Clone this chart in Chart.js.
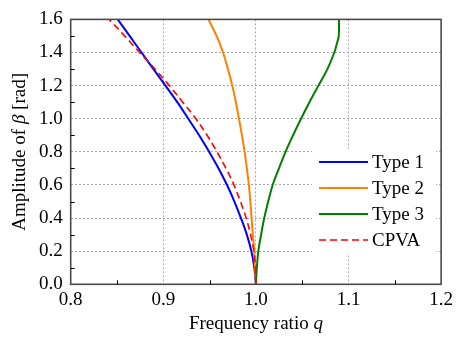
<!DOCTYPE html>
<html>
<head>
<meta charset="utf-8">
<script src="https://cdn.jsdelivr.net/npm/chart.js@4/dist/chart.umd.min.js"></script>
<style>
  html, body { margin: 0; padding: 0; background: #fff; }
  #wrap { width: 457px; height: 339px; }
</style>
</head>
<body>
<div id="wrap"><canvas id="chart" width="457" height="339"></canvas></div>
<script>
// amplitude values (beta, rad) and frequency ratios
const betaSteps = [0, 0.1, 0.2, 0.3, 0.4, 0.5, 0.6, 0.7, 0.8, 0.9, 1.0, 1.1, 1.2, 1.3, 1.4, 1.5, 1.6];

const qType1 = [1.0, 0.9983, 0.9951, 0.9902, 0.9838, 0.9768, 0.9688, 0.9597, 0.9495, 0.9387, 0.9270, 0.9151, 0.9023, 0.8894, 0.8765, 0.8636, 0.8508];
const qType2 = [1.0, 0.9990, 0.9981, 0.9967, 0.9953, 0.9940, 0.9924, 0.9902, 0.9878, 0.9849, 0.9817, 0.9784, 0.9745, 0.9698, 0.9645, 0.9575, 0.9487];
const qCpva = [1.0, 0.9994, 0.9978, 0.9942, 0.9895, 0.9833, 0.9763, 0.9677, 0.9580, 0.9473, 0.9352, 0.9210, 0.9065, 0.8910, 0.8744, 0.8583, 0.8414];

const betaType3 = [0, 0.1, 0.2, 0.3, 0.4, 0.5, 0.6, 0.7, 0.8, 0.9, 1.0, 1.1, 1.2, 1.3, 1.4, 1.45, 1.5, 1.6];
const qType3 = [1.0, 1.0010, 1.0026, 1.0056, 1.0090, 1.0133, 1.0181, 1.0249, 1.0320, 1.0401, 1.0487, 1.0578, 1.0675, 1.0772, 1.0847, 1.0872, 1.0895, 1.0897];

const seriesLabels = ['Type 1', 'Type 2', 'Type 3', 'CPVA'];
const xMinorTicks = [0.85, 0.95, 1.05, 1.15];
const yMinorTicks = [0.1, 0.3, 0.5, 0.7, 0.9, 1.1, 1.3, 1.5];

const FONT = "'Liberation Serif', 'Times New Roman', serif";

function toPoints(qs, betas) {
    return qs.map((q, i) => ({ x: q, y: betas[i] }));
}

function gridColor(ctx) {
    const v = ctx.tick ? ctx.tick.value : null;
    const s = ctx.scale;
    if (v === null || Math.abs(v - s.min) < 1e-6 || Math.abs(v - s.max) < 1e-6) return 'rgba(0,0,0,0)';
    return '#a8a8a8';
}

// frame, minor ticks, axis titles and legend
const decorPlugin = {
    id: 'decor',
    beforeDatasetsDraw(chart) {
        const c = chart.ctx;
        // white box behind the legend hides the grid there
        c.save();
        c.fillStyle = '#fff';
        c.fillRect(312, 149, 124, 104);
        c.restore();
    },
    afterDraw(chart) {
        const c = chart.ctx;
        const a = chart.chartArea;
        const xs = chart.scales.x;
        const ys = chart.scales.y;

        c.save();
        c.strokeStyle = '#4a4a4a';
        c.lineWidth = 1.6;
        c.strokeRect(a.left, a.top, a.right - a.left, a.bottom - a.top);

        c.strokeStyle = '#000';
        c.lineWidth = 1;
        xMinorTicks.forEach((v) => {
            const px = Math.round(xs.getPixelForValue(v)) + 0.5;
            c.beginPath();
            c.moveTo(px, a.bottom);
            c.lineTo(px, a.bottom - 4);
            c.stroke();
        });
        yMinorTicks.forEach((v) => {
            const py = Math.round(ys.getPixelForValue(v)) + 0.5;
            c.beginPath();
            c.moveTo(a.left, py);
            c.lineTo(a.left + 4, py);
            c.stroke();
        });

        // x title
        c.fillStyle = '#000';
        c.textBaseline = 'middle';
        const part1 = 'Frequency ratio ';
        c.font = '19px ' + FONT;
        const w1 = c.measureText(part1).width;
        c.font = 'italic 19px ' + FONT;
        const w2 = c.measureText('q').width;
        let x0 = (a.left + a.right) / 2 - (w1 + w2) / 2;
        c.font = '19px ' + FONT;
        c.textAlign = 'left';
        c.fillText(part1, x0, 324);
        c.font = 'italic 19px ' + FONT;
        c.fillText('q', x0 + w1, 324);

        // y title, rotated
        c.translate(20, (a.top + a.bottom) / 2);
        c.rotate(-Math.PI / 2);
        const yParts = [['Amplitude of ', ''], ['\u03B2', 'italic '], [' [rad]', '']];
        let total = 0;
        yParts.forEach((p) => {
            c.font = p[1] + '19px ' + FONT;
            total += c.measureText(p[0]).width;
        });
        let cx = -total / 2;
        yParts.forEach((p) => {
            c.font = p[1] + '19px ' + FONT;
            c.fillText(p[0], cx, 0);
            cx += c.measureText(p[0]).width;
        });
        c.restore();

        // legend
        c.save();
        chart.data.datasets.forEach((ds, i) => {
            const ly = 162 + i * 26;
            c.strokeStyle = ds.borderColor;
            c.lineWidth = ds.borderWidth;
            c.setLineDash(ds.borderDash || []);
            c.beginPath();
            c.moveTo(319, ly);
            c.lineTo(368, ly);
            c.stroke();
            c.setLineDash([]);
            c.fillStyle = '#000';
            c.font = '19px ' + FONT;
            c.textAlign = 'left';
            c.textBaseline = 'middle';
            c.fillText(ds.label, 372, ly + 1);
        });
        c.restore();
    }
};

const chart = new Chart(document.getElementById('chart'), {
    type: 'scatter',
    data: {
        datasets: [
            {
                label: seriesLabels[0],
                data: toPoints(qType1, betaSteps),
                borderColor: '#0000ff',
                borderWidth: 2,
                order: 4
            },
            {
                label: seriesLabels[1],
                data: toPoints(qType2, betaSteps),
                borderColor: '#ff8000',
                borderWidth: 2,
                order: 3
            },
            {
                label: seriesLabels[2],
                data: toPoints(qType3, betaType3),
                borderColor: '#008000',
                borderWidth: 2,
                order: 2
            },
            {
                label: seriesLabels[3],
                data: toPoints(qCpva, betaSteps),
                borderColor: '#ff0000',
                borderWidth: 1.6,
                borderDash: [7, 4],
                order: 1
            }
        ]
    },
    options: {
        responsive: false,
        animation: false,
        devicePixelRatio: 1,
        showLine: true,
        elements: {
            point: { radius: 0, hoverRadius: 0 },
            line: { tension: 0.35, fill: false }
        },
        layout: { padding: { top: 12, right: 14, left: 0, bottom: 0 } },
        plugins: {
            legend: { display: false },
            tooltip: { enabled: false }
        },
        scales: {
            x: {
                type: 'linear',
                min: 0.8,
                max: 1.2,
                ticks: {
                    stepSize: 0.1,
                    padding: 4,
                    color: '#000',
                    font: { family: FONT, size: 19 },
                    callback: (v) => v.toFixed(1)
                },
                grid: { color: gridColor, lineWidth: 1, drawTicks: false },
                border: { display: false, dash: [2, 2] },
                afterFit: (s) => { s.height = 54.7; }
            },
            y: {
                type: 'linear',
                min: 0,
                max: 1.6,
                ticks: {
                    stepSize: 0.2,
                    padding: 8,
                    color: '#000',
                    font: { family: FONT, size: 19 },
                    callback: (v) => v.toFixed(1)
                },
                grid: { color: gridColor, lineWidth: 1, drawTicks: false },
                border: { display: false, dash: [2, 2] },
                afterFit: (s) => { s.width = 70.7; }
            }
        }
    },
    plugins: [decorPlugin]
});
</script>
</body>
</html>
